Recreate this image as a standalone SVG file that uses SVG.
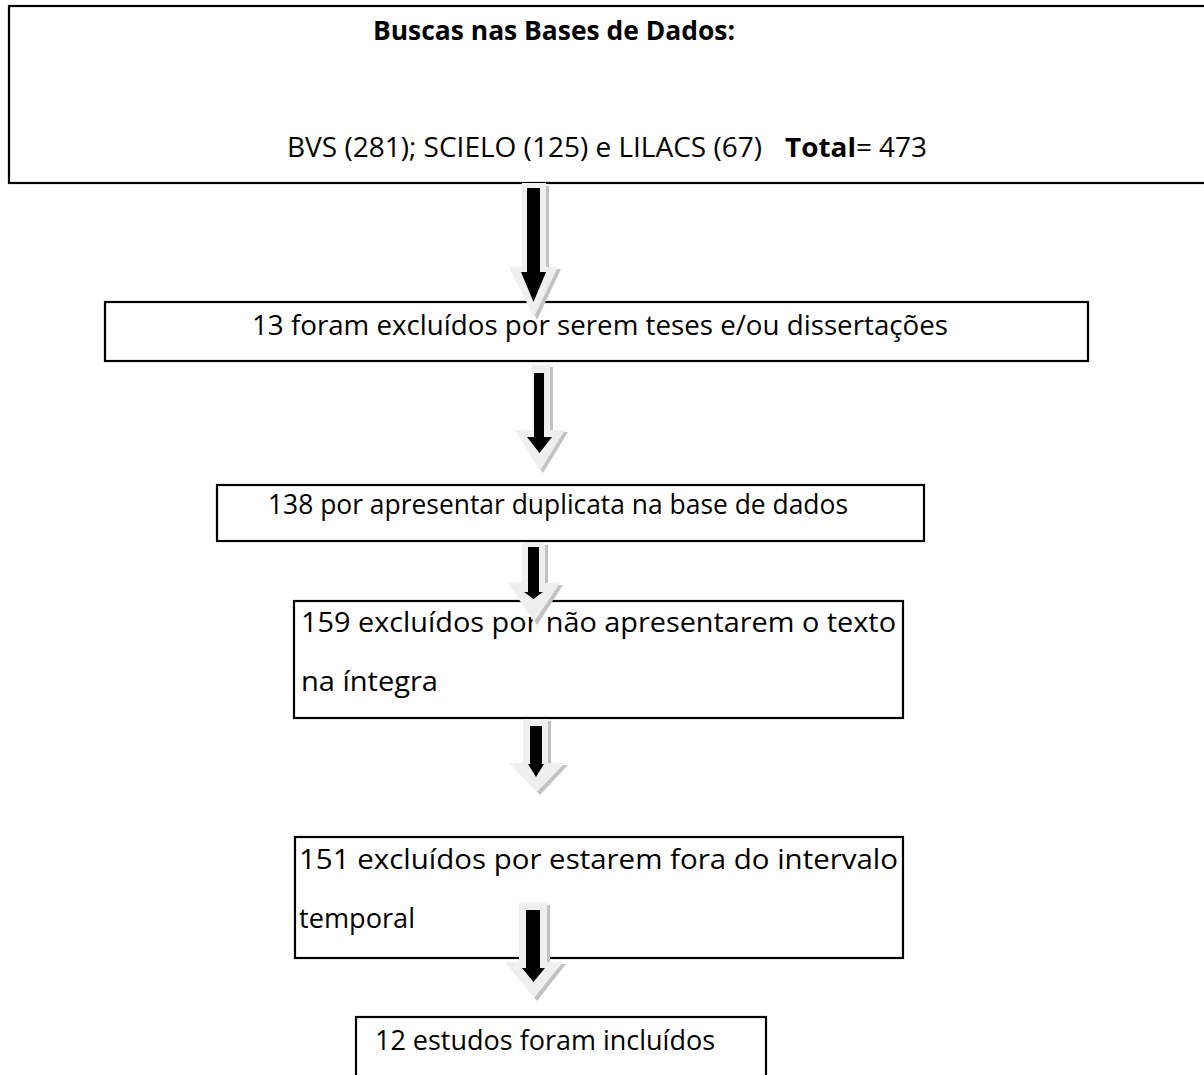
<svg xmlns="http://www.w3.org/2000/svg" width="1204" height="1075" viewBox="0 0 1204 1075">
<style>
.box{fill:#fff;stroke:#000;stroke-width:2.2}
.t{font-family:"Open Sans","Noto Sans","Liberation Sans",sans-serif;font-size:27.5px;fill:#000}
.b{font-weight:bold}
.sh{fill:#c2c2c2}
.out{fill:#efefef}
.blk{fill:#000}
</style>
<rect width="1204" height="1075" fill="#fff"/>
<g id="n1">
<rect class="box" x="9" y="6" width="1215" height="177"/>
<text class="t b" x="373" y="40" textLength="362" lengthAdjust="spacingAndGlyphs">Buscas nas Bases de Dados:</text>
<text class="t" x="287" y="157" textLength="475" lengthAdjust="spacingAndGlyphs">BVS (281); SCIELO (125) e LILACS (67)</text>
<text class="t" x="785" y="157" textLength="142" lengthAdjust="spacingAndGlyphs"><tspan class="b">Total</tspan>= 473</text>
</g>
<g id="n2">
<rect class="box" x="105" y="302" width="983" height="59"/>
<text class="t" x="252" y="335" textLength="696" lengthAdjust="spacingAndGlyphs">13 foram excluídos por serem teses e/ou dissertações</text>
</g>
<g id="n3">
<rect class="box" x="217" y="485" width="707" height="56"/>
<text class="t" x="268" y="514" textLength="580" lengthAdjust="spacingAndGlyphs">138 por apresentar duplicata na base de dados</text>
</g>
<g id="n4">
<rect class="box" x="294" y="601" width="609" height="117"/>
<text class="t" x="301" y="632" textLength="595" lengthAdjust="spacingAndGlyphs">159 excluídos por não apresentarem o texto</text>
<text class="t" x="301" y="691" textLength="137" lengthAdjust="spacingAndGlyphs">na íntegra</text>
</g>
<g id="n5">
<rect class="box" x="295" y="837" width="608" height="121"/>
<text class="t" x="299" y="869" textLength="599" lengthAdjust="spacingAndGlyphs">151 excluídos por estarem fora do intervalo</text>
<text class="t" x="299" y="928" textLength="116" lengthAdjust="spacingAndGlyphs">temporal</text>
</g>
<g id="n6">
<rect class="box" x="356" y="1017" width="410" height="80"/>
<text class="t" x="375" y="1050" textLength="340" lengthAdjust="spacingAndGlyphs">12 estudos foram incluídos</text>
</g>
<g id="connectors">
<g id="a1">
<polygon class="sh" points="525,186 549,186 549,269 561,269 537,320 512,269 525,269"/>
<polygon class="out" points="522,183 546,183 546,267 558,267 534,317 509,267 522,267"/>
<polygon class="blk" points="527,188 540,188 540,272 546,272 533.5,302 521,272 527,272"/>
</g>
<g id="a2">
<polygon class="sh" points="535,367 553,367 553,432 568,432 543,473 518,432 535,432"/>
<polygon class="out" points="532,365 550,365 550,430 565,430 540,471 515,430 532,430"/>
<polygon class="blk" points="534,373 544,373 544,437 552,437 539.5,453 527,437 534,437"/>
</g>
<g id="a3">
<polygon class="sh" points="525,545 548,545 548,585 563,585 537,625 511,585 525,585"/>
<polygon class="out" points="522,543 545,543 545,583 560,583 534,622 508,583 522,583"/>
<polygon class="blk" points="528,547 539,547 539,592 543,592 533.5,599 524,592 528,592"/>
</g>
<g id="a4">
<polygon class="sh" points="526,721 551,721 551,765 568,765 540,795 512,765 526,765"/>
<polygon class="out" points="523,719 548,719 548,763 565,763 537,792 509,763 523,763"/>
<polygon class="blk" points="530,726 542,726 542,764 544,764 536,777 528,764 530,764"/>
</g>
<g id="a5">
<polygon class="sh" points="522,905 550,905 550,964 566,964 537,1001 508,964 522,964"/>
<polygon class="out" points="519,903 547,903 547,962 563,962 534,998 505,962 519,962"/>
<polygon class="blk" points="526,910 540,910 540,968 545,968 533.5,982 522,968 526,968"/>
</g>
</g>
</svg>
